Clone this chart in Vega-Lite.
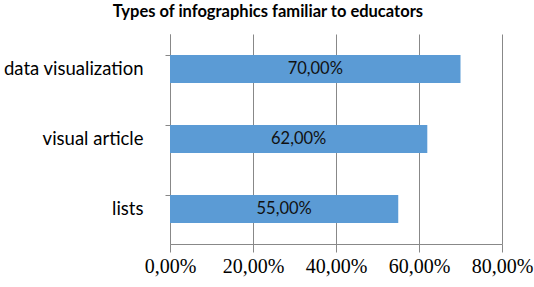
{
  "$schema": "https://vega.github.io/schema/vega-lite/v6.json",
  "width": 332,
  "height": 210,
  "autosize": {"type": "none"},
  "padding": {"left": 170, "top": 34, "right": 32, "bottom": 43},
  "background": "white",
  "config": {
    "locale": {"number": {"decimal": ",", "thousands": ".", "grouping": [3], "currency": ["", " €"]}},
    "view": {"stroke": null}
  },
  "title": {
    "text": "Types of infographics familiar to educators",
    "font": "Lato",
    "fontSize": 16.5,
    "fontWeight": "bold",
    "color": "#000000",
    "anchor": "middle",
    "frame": "bounds",
    "offset": 14
  },
  "data": {
    "values": [
      {"category": "data visualization", "value": 0.70},
      {"category": "visual article", "value": 0.62},
      {"category": "lists", "value": 0.55}
    ]
  },
  "encoding": {
    "y": {
      "field": "category",
      "type": "nominal",
      "sort": null,
      "title": null,
      "scale": {"paddingInner": 0.6, "paddingOuter": 0.3},
      "axis": {
        "bandPosition": 0,
        "labelFont": "Lato",
        "labelFontSize": 18.5,
        "labelColor": "#000000",
        "labelPadding": 22,
        "tickSize": 5,
        "tickColor": "#888888",
        "domainColor": "#888888",
        "grid": false
      }
    }
  },
  "layer": [
    {
      "mark": {"type": "bar", "color": "#5B9BD5"},
      "encoding": {
        "x": {
          "field": "value",
          "type": "quantitative",
          "title": null,
          "scale": {"domain": [0, 0.8], "nice": false},
          "axis": {
            "values": [0, 0.2, 0.4, 0.6, 0.8],
            "format": ".2%",
            "labelFont": "Liberation Serif",
            "labelFontSize": 20,
            "labelColor": "#000000",
            "labelPadding": 4,
            "tickSize": 8,
            "tickColor": "#888888",
            "domainColor": "#888888",
            "grid": true,
            "gridColor": "#888888",
            "labelFlush": false
          }
        }
      }
    },
    {
      "transform": [{"calculate": "datum.value / 2", "as": "mid"}],
      "mark": {"type": "text", "font": "Lato", "fontSize": 16.5, "color": "#111111", "align": "center", "baseline": "middle"},
      "encoding": {
        "x": {
          "field": "mid",
          "type": "quantitative",
          "title": null,
          "axis": {
            "values": [0, 0.2, 0.4, 0.6, 0.8],
            "format": ".2%",
            "labelFont": "Liberation Serif",
            "labelFontSize": 20,
            "labelColor": "#000000",
            "labelPadding": 4,
            "tickSize": 8,
            "tickColor": "#888888",
            "domainColor": "#888888",
            "grid": true,
            "gridColor": "#888888",
            "labelFlush": false
          }
        },
        "text": {"field": "value", "type": "quantitative", "format": ".2%"}
      }
    }
  ]
}
